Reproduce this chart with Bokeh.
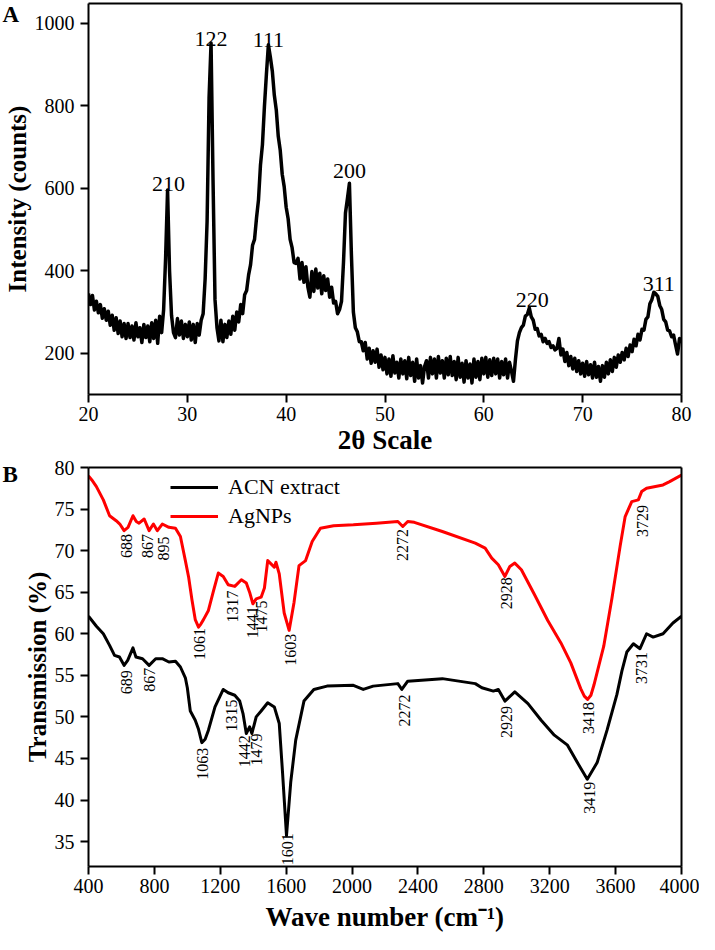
import numpy as np
from bokeh.plotting import figure
from bokeh.layouts import column
from bokeh.models import FixedTicker, Legend, LegendItem, LinearAxis, Title
from bokeh.core.properties import value
from bokeh.embed import file_html
from bokeh.resources import INLINE

FONT = "Liberation Serif"

# ---------------- Panel A : XRD ----------------
xrd_2theta = np.round(np.arange(20.0, 80.0001, 0.2), 1)
xrd_counts = [
    345, 318, 340, 305, 326, 298, 318, 285, 308, 280,
    302, 268, 292, 256, 286, 248, 278, 240, 272, 236,
    272, 238, 266, 232, 274, 240, 262, 226, 270, 238,
    266, 228, 274, 236, 280, 224, 290, 250, 305, 430,
    596, 400, 292, 250, 238, 284, 244, 278, 236, 270,
    240, 276, 232, 270, 226, 272, 244, 280, 296, 380,
    520, 820, 952, 620, 330, 262, 230, 280, 228, 270,
    238, 278, 246, 290, 256, 300, 276, 318, 296, 342,
    352, 390, 415, 462, 476, 528, 572, 656, 706, 798,
    876, 948, 918, 884, 826, 790, 726, 692, 634, 604,
    554, 526, 476, 456, 420, 418, 430, 380, 420, 372,
    410, 360, 336, 398, 350, 404, 358, 394, 344, 388,
    352, 380, 336, 360, 322, 326, 296, 306, 326, 420,
    540, 575, 612, 440, 300, 262, 252, 228, 228, 206,
    226, 186, 212, 176, 206, 178, 210, 166, 196, 160,
    190, 150, 186, 144, 194, 152, 178, 140, 186, 150,
    182, 138, 190, 146, 178, 132, 186, 140, 170, 128,
    168, 182, 140, 190, 150, 186, 140, 192, 152, 182,
    140, 188, 148, 192, 146, 180, 136, 190, 142, 176,
    130, 182, 140, 174, 128, 186, 142, 180, 136, 188,
    150, 190, 142, 184, 146, 188, 150, 186, 140, 180,
    148, 186, 140, 178, 156, 132, 185, 230, 250, 262,
    268, 290, 294, 310, 288, 280, 258, 260, 242, 246,
    228, 236, 224, 228, 214, 218, 208, 212, 236, 196,
    210, 180, 202, 170, 192, 162, 188, 156, 182, 150,
    176, 144, 180, 148, 172, 140, 178, 142, 168, 132,
    170, 142, 178, 150, 184, 156, 190, 166, 196, 178,
    202, 184, 212, 192, 220, 204, 234, 218, 246, 232,
    258, 256, 282, 288, 320, 330, 348, 344, 338, 316,
    306, 282, 276, 256, 254, 240, 244, 220, 198, 236,
    225,
]
xrd_peak_text = ["210", "122", "111", "200", "220", "311"]
xrd_peak_x = [28.1, 32.4, 38.2, 46.4, 64.9, 77.7]
xrd_peak_y = [610, 962, 959, 641, 328, 369]

# ---------------- Panel B : FTIR ----------------
agnp_wn = [400, 420, 448, 490, 528, 568, 590, 616, 640, 670, 690, 707, 738, 768, 794,
           818, 848, 888, 928, 958, 988, 1008, 1028, 1048, 1068, 1083, 1098, 1128, 1158,
           1188, 1218, 1248, 1288, 1328, 1358, 1378, 1398, 1418, 1448, 1468, 1488, 1508,
           1528, 1538, 1558, 1588, 1618, 1648, 1678, 1718, 1758, 1808, 1888, 2008, 2148,
           2278, 2308, 2338, 2378, 2548, 2748, 2808, 2848, 2888, 2928, 2958, 2988, 3028,
           3108, 3188, 3268, 3328, 3388, 3410, 3430, 3450, 3468, 3528, 3578, 3628, 3658,
           3698, 3738, 3758, 3788, 3888, 3928, 4000]
agnp_t = [79.0, 78.5, 77.7, 76.1, 74.2, 73.6, 73.2, 72.4, 72.8, 74.2, 73.5, 73.3, 73.8, 72.4, 73.2,
          72.4, 73.2, 72.8, 72.7, 71.7, 68.8, 66.8, 64.1, 61.7, 60.8, 61.2, 61.7, 62.8, 65.1,
          67.3, 66.9, 65.9, 65.7, 66.5, 66.1, 65.0, 63.6, 64.2, 64.4, 65.5, 68.8, 68.4,
          68.0, 68.6, 67.2, 62.5, 60.4, 63.8, 68.2, 68.8, 71.1, 72.7, 73.0, 73.1, 73.3,
          73.5, 72.9, 73.5, 73.4, 72.3, 70.9, 70.3, 69.1, 68.3, 66.9, 68.1, 68.5, 67.7,
          64.7, 61.6, 58.9, 56.5, 53.4, 52.5, 52.1, 52.6, 53.8, 58.5, 64.3, 70.6, 74.1,
          75.9, 76.1, 77.1, 77.5, 77.9, 78.3, 79.1]

acn_wn = [400, 448, 490, 528, 558, 588, 616, 638, 670, 688, 728, 768, 808, 848, 888, 928,
          958, 988, 1000, 1018, 1048, 1068, 1088, 1108, 1128, 1168, 1218, 1248, 1288, 1318,
          1338, 1358, 1378, 1392, 1418, 1448, 1488, 1528, 1558, 1578, 1602, 1628, 1658,
          1708, 1768, 1848, 2008, 2068, 2128, 2278, 2302, 2338, 2548, 2748, 2788, 2858,
          2888, 2928, 2988, 3068, 3148, 3228, 3308, 3368, 3428, 3488, 3548, 3608, 3638,
          3668, 3708, 3748, 3788, 3828, 3888, 3948, 4000]
acn_t = [62.1, 60.9, 60.0, 58.6, 57.4, 57.2, 56.2, 56.8, 58.3, 57.2, 57.0, 56.2, 57.0, 57.0, 56.6, 56.7,
         56.0, 54.7, 53.5, 50.7, 49.6, 48.5, 46.9, 47.3, 48.4, 51.2, 53.3, 52.9, 52.6, 51.9,
         50.4, 48.0, 48.8, 48.0, 50.0, 50.7, 51.7, 51.2, 49.2, 43.3, 35.7, 42.2, 47.2,
         51.9, 53.3, 53.7, 53.8, 53.3, 53.7, 54.0, 53.3, 54.3, 54.6, 54.0, 53.5, 53.1,
         53.3, 51.9, 53.0, 51.6, 49.6, 47.8, 46.6, 44.5, 42.5, 44.5, 48.4, 52.7, 55.5,
         57.8, 58.8, 58.2, 60.0, 59.6, 60.0, 61.3, 62.1]

agnp_lbl_text = ["688", "867", "895", "1061", "1317", "1441", "1475", "1603", "2272", "2928", "3418", "3729"]
agnp_lbl_x = [628, 760, 856, 1072, 1276, 1397, 1448, 1628, 2308, 2938, 3436, 3766]
agnp_lbl_y = [72.0, 72.0, 71.7, 60.7, 65.2, 63.3, 64.0, 60.0, 72.6, 66.8, 51.8, 75.5]

acn_lbl_text = ["689", "867", "1063", "1315", "1442", "1479", "1601", "2272", "2929", "3419", "3731"]
acn_lbl_x = [628, 772, 1090, 1270, 1348, 1418, 1608, 2320, 2938, 3442, 3758]
acn_lbl_y = [55.6, 55.9, 46.3, 52.1, 47.8, 48.0, 36.0, 52.7, 51.3, 42.2, 57.8]

# layout constants (pixels)
W = 699
LEFT = 87
A_RIGHT, A_TOP, A_FRAME_H, A_BOTTOM = 4, 3, 391, 63
B_RIGHT, B_TOP, B_FRAME_H, B_BOTTOM = 18, 10, 400, 67


def plain_axis():
    # an axis with no ticks and no labels: only its line, closing the frame box
    return LinearAxis(ticker=FixedTicker(ticks=[]), axis_line_width=2, axis_line_color="black",
                      major_tick_line_color=None, minor_tick_line_color=None,
                      major_tick_out=3, major_tick_in=0, major_label_standoff=0,
                      axis_label_standoff=0, major_label_text_font_size="1px",
                      major_label_text_alpha=0)


def style(p, xticks, yticks, xlabel, ylabel, letter, letter_drop, xlabel_standoff):
    xa, ya = p.below[0], p.left[0]
    p.grid.visible = False
    p.outline_line_color = None
    p.background_fill_color = "white"
    p.border_fill_color = "white"
    for ax in (xa, ya):
        ax.axis_line_width = 2
        ax.axis_line_color = "black"
        ax.major_tick_line_width = 2
        ax.major_tick_line_color = "black"
        ax.major_tick_out = 8
        ax.major_tick_in = 0
        ax.minor_tick_line_color = None
        ax.major_label_text_font = FONT
        ax.major_label_text_font_size = "20px"
        ax.major_label_text_color = "black"
        ax.axis_label_text_font = FONT
        ax.axis_label_text_font_style = "bold"
        ax.axis_label_text_color = "black"
        ax.axis_label_standoff = 1
    xa.major_label_standoff = 4
    xa.axis_label_standoff = xlabel_standoff
    ya.major_label_standoff = 6
    xa.axis_label_text_font_size = "27px"
    ya.axis_label_text_font_size = "25px"
    xa.ticker = FixedTicker(ticks=xticks)
    ya.ticker = FixedTicker(ticks=yticks)
    xa.axis_label = xlabel
    ya.axis_label = ylabel
    # top and right frame lines
    p.add_layout(plain_axis(), "above")
    p.add_layout(plain_axis(), "right")
    # panel letter
    p.add_layout(Title(text=letter, align="left", offset=-(LEFT - 1), standoff=-letter_drop,
                       text_font=FONT, text_font_style="bold", text_font_size="23px",
                       text_color="black"), "above")


# ---------- figure A ----------
pa = figure(width=W, height=A_TOP + A_FRAME_H + A_BOTTOM, x_range=(20, 80), y_range=(100, 1048),
            output_backend="svg", toolbar_location=None,
            min_border_left=LEFT, min_border_right=A_RIGHT,
            min_border_top=A_TOP, min_border_bottom=A_BOTTOM)
style(pa, [20, 30, 40, 50, 60, 70, 80], [200, 400, 600, 800, 1000],
      "2θ Scale", "Intensity (counts)", "A", 47, 1)
pa.line(xrd_2theta, xrd_counts, line_color="black", line_width=3.5, line_join="round")
pa.text(x=xrd_peak_x, y=xrd_peak_y, text=xrd_peak_text, text_align="center",
        text_baseline="alphabetic", text_font=value(FONT), text_font_size="22px",
        text_color="black")

# ---------- figure B ----------
pb = figure(width=W, height=B_TOP + B_FRAME_H + B_BOTTOM, x_range=(400, 4000), y_range=(32, 80),
            output_backend="svg", toolbar_location=None,
            min_border_left=LEFT, min_border_right=B_RIGHT,
            min_border_top=B_TOP, min_border_bottom=B_BOTTOM)
style(pb, list(range(400, 4001, 400)), [35, 40, 45, 50, 55, 60, 65, 70, 75, 80],
      "Wave number (cm⁻¹)", "Transmission (%)", "B", 38, 6)
r_acn = pb.line(acn_wn, acn_t, line_color="black", line_width=3, line_join="round")
r_ag = pb.line(agnp_wn, agnp_t, line_color="#ff0000", line_width=3, line_join="round")
pb.text(x=agnp_lbl_x, y=agnp_lbl_y, text=agnp_lbl_text, angle=np.pi / 2,
        text_align="right", text_baseline="middle", text_font=value(FONT),
        text_font_size="16px", text_color="black")
pb.text(x=acn_lbl_x, y=acn_lbl_y, text=acn_lbl_text, angle=np.pi / 2,
        text_align="right", text_baseline="middle", text_font=value(FONT),
        text_font_size="16px", text_color="black")
legend = Legend(items=[LegendItem(label="ACN extract", renderers=[r_acn]),
                       LegendItem(label="AgNPs", renderers=[r_ag])],
                location=(82, B_FRAME_H - 8 - 55), border_line_color=None,
                background_fill_alpha=0,
                label_text_font=FONT, label_text_font_size="22px", label_text_color="black",
                glyph_width=48, glyph_height=22, label_height=22, spacing=3,
                padding=0, margin=0, label_standoff=10)
pb.add_layout(legend)

layout = column(pa, pb, spacing=0)
open("out.html", "w").write(file_html(layout, INLINE))
